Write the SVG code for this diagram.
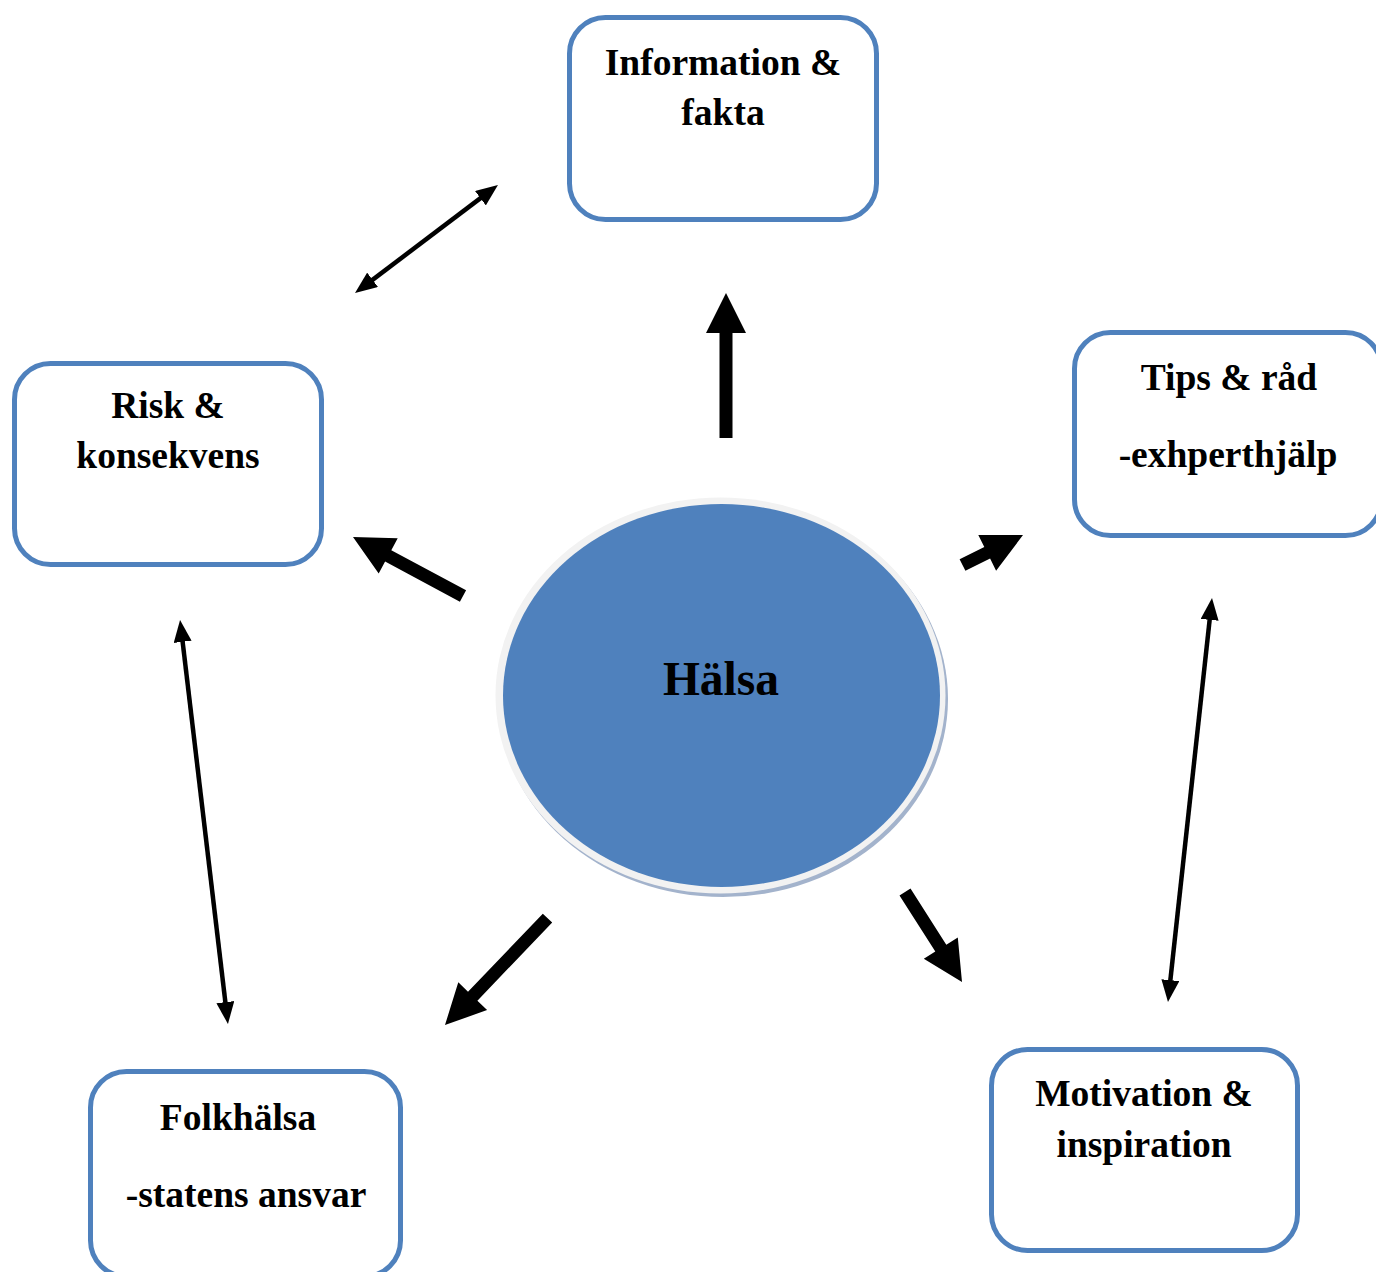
<svg xmlns="http://www.w3.org/2000/svg" width="1376" height="1272" viewBox="0 0 1376 1272">
<style>
.box{fill:#FFFFFF;stroke:#4F81BD;stroke-width:5}
.lbl{font-family:"Liberation Serif","Times New Roman",serif;font-weight:bold;font-size:37.5px;fill:#000;text-anchor:middle}
.thin{stroke:#000;stroke-width:4.5;fill:none;marker-start:url(#ah);marker-end:url(#ah)}
.thick{fill:#000}
</style>
<defs>
<marker id="ah" markerUnits="userSpaceOnUse" viewBox="0 0 22 18" markerWidth="22" markerHeight="18" refX="8" refY="9" orient="auto-start-reverse">
<path d="M0,0 L22,9 L0,18 z" fill="#000"/>
</marker>
</defs>
<rect width="1376" height="1272" fill="#FFFFFF"/>

<g id="connectors">
<polygon class="thick" points="732.5,438 732.5,333 746,333 726,293 706,333 719.5,333 719.5,438"/>
<polygon class="thick" points="466.1,590.3 391.3,550.2 397.7,538.3 353,537 378.7,573.5 385.1,561.6 459.9,601.7"/>
<polygon class="thick" points="965.4,570.8 990.1,558.6 996.1,570.7 1023,535 978.3,534.9 984.3,547 959.6,559.2"/>
<polygon class="thick" points="899.5,895.5 935.3,951.6 923.8,958.7 962,982 957.8,937.5 946.3,944.7 910.5,888.5"/>
<polygon class="thick" points="542.8,913.8 468,991.7 458.3,982.3 445,1025 487.1,1010.1 477.4,1000.7 552.2,922.5"/>
<line class="thin" x1="366.2" y1="284.6" x2="486.8" y2="193.4"/>
<line class="thin" x1="181.7" y1="633.9" x2="226.3" y2="1010.1"/>
<line class="thin" x1="1210.5" y1="611.9" x2="1169.5" y2="988.1"/>
</g>

<g id="node-halsa">
<ellipse cx="723" cy="699" rx="225" ry="198" fill="#A3B3CC"/>
<ellipse cx="720.5" cy="695.5" rx="225" ry="198" fill="#F2F2F2"/>
<ellipse cx="721.5" cy="695.5" rx="218.5" ry="191.5" fill="#4F81BD"/>
<text x="721" y="695" font-family="'Liberation Serif','Times New Roman',serif" font-weight="bold" font-size="47.5" text-anchor="middle" fill="#000">Hälsa</text>
</g>

<g id="node-information">
<rect class="box" x="569.5" y="17.5" width="307" height="202" rx="36"/>
<text class="lbl" x="723" y="75">Information &amp;</text>
<text class="lbl" x="723" y="125">fakta</text>
</g>

<g id="node-risk">
<rect class="box" x="14.5" y="363.5" width="307" height="201" rx="36"/>
<text class="lbl" x="168" y="418">Risk &amp;</text>
<text class="lbl" x="168" y="468">konsekvens</text>
</g>

<g id="node-tips">
<rect class="box" x="1074.5" y="332.5" width="307" height="203" rx="36"/>
<text class="lbl" x="1229" y="390">Tips &amp; råd</text>
<text class="lbl" x="1228" y="467">-exhperthjälp</text>
</g>

<g id="node-folkhalsa">
<rect class="box" x="90.5" y="1071.5" width="310" height="205" rx="36"/>
<text class="lbl" x="238" y="1130">Folkhälsa</text>
<text class="lbl" x="246" y="1207">-statens ansvar</text>
</g>

<g id="node-motivation">
<rect class="box" x="991.5" y="1049.5" width="306" height="201" rx="36"/>
<text class="lbl" x="1144" y="1106">Motivation &amp;</text>
<text class="lbl" x="1144" y="1157">inspiration</text>
</g>
</svg>
